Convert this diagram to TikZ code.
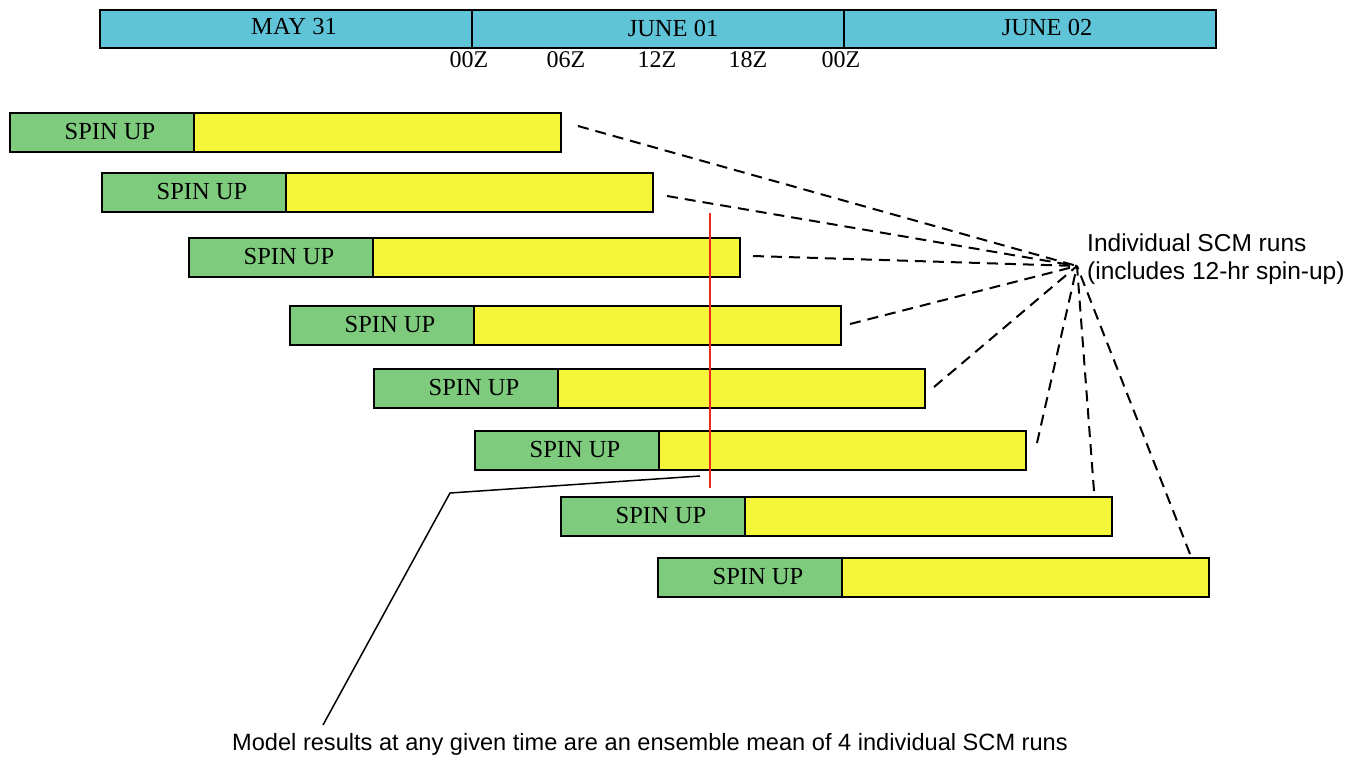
\documentclass[tikz,border=0pt]{standalone}
\usepackage{fontspec}
\setmainfont{Liberation Serif}
\newfontfamily\arialf{Liberation Sans}
\definecolor{daycyan}{RGB}{96,196,216}
\definecolor{spingreen}{RGB}{126,203,126}
\definecolor{runyellow}{RGB}{245,245,58}
\definecolor{redline}{RGB}{240,40,30}
\tikzset{
  daybox/.style={draw=black, line width=1.9pt, fill=daycyan, rectangle, inner sep=0pt, minimum width=372pt, minimum height=38pt, anchor=north west},
  spinbox/.style={draw=black, line width=1.9pt, fill=spingreen, rectangle, inner sep=0pt, minimum width=184pt, minimum height=39pt, anchor=north west},
  runbox/.style={draw=black, line width=1.9pt, fill=runyellow, rectangle, inner sep=0pt, minimum width=367pt, minimum height=39pt, anchor=north west},
  boxtext/.style={font=\fontsize{24.5}{24.5}\selectfont, inner sep=0pt},
  ticktext/.style={font=\fontsize{24}{24}\selectfont, inner sep=0pt},
  labtext/.style={font=\arialf\fontsize{24.5}{28}\selectfont, inner sep=0pt},
  bottext/.style={font=\arialf\fontsize{23.6}{28}\selectfont, inner sep=0pt},
  runlink/.style={draw=black, line width=2pt, dash pattern=on 11pt off 7pt},
  leader/.style={draw=black, line width=1.5pt},
}
\begin{document}
\begin{tikzpicture}[x=1pt,y=-1pt]
\useasboundingbox (0,0) rectangle (1360,756);
% day bar
\node[daybox] (may31) at (99,9) {};
\node[daybox] (jun01) at (471,9) {};
\node[daybox] (jun02) at (843,9) {};
\node[boxtext] (tmay) at (294,27) {MAY 31};
\node[boxtext] (tjun1) at (673,28) {JUNE 01};
\node[boxtext] (tjun2) at (1047,27) {JUNE 02};
\node[ticktext] (t0) at (469,60) {00Z};
\node[ticktext] (t6) at (566,60) {06Z};
\node[ticktext] (t12) at (657,60) {12Z};
\node[ticktext] (t18) at (748,60) {18Z};
\node[ticktext] (t24) at (841,60) {00Z};
% runs
\foreach \i/\x/\y in {1/9/112, 2/101/172, 3/188/237, 4/289/305, 5/373/368, 6/474/430, 7/560/496, 8/657/557} {
  \node[runbox] (r\i) at (\x+184,\y) {};
  \node[spinbox] (s\i) at (\x,\y) {};
  \node[boxtext] (st\i) at (\x+101,\y+19.5) {SPIN UP};
}
% convergence
\coordinate (conv) at (1077,266);
\node[labtext, anchor=west, align=left] (lab) at (1087,259) {Individual SCM runs\\(includes 12-hr spin-up)};
\coordinate (d1) at (578,126);
\coordinate (d2) at (667,196);
\coordinate (d3) at (753,256);
\coordinate (d4) at (850,324);
\coordinate (d5) at (934,387);
\coordinate (d6) at (1037,443);
\coordinate (d7) at (1094,491);
\coordinate (d8) at (1190,554);
\foreach \i in {1,...,8} { \draw[runlink] (d\i) -- (conv); }
% red time line
\coordinate (redtop) at (710,213);
\coordinate (redbot) at (710,488);
\draw[redline, line width=1.5pt] (redtop) -- (redbot);
% leader
\node[bottext, anchor=base] (bottom) at (650,750) {Model results at any given time are an ensemble mean of 4 individual SCM runs};
\coordinate (l1) at (700,476);
\coordinate (l2) at (450,493);
\coordinate (l3) at (323,725);
\draw[leader] (l1) -- (l2) -- (l3);
\end{tikzpicture}
\end{document}
